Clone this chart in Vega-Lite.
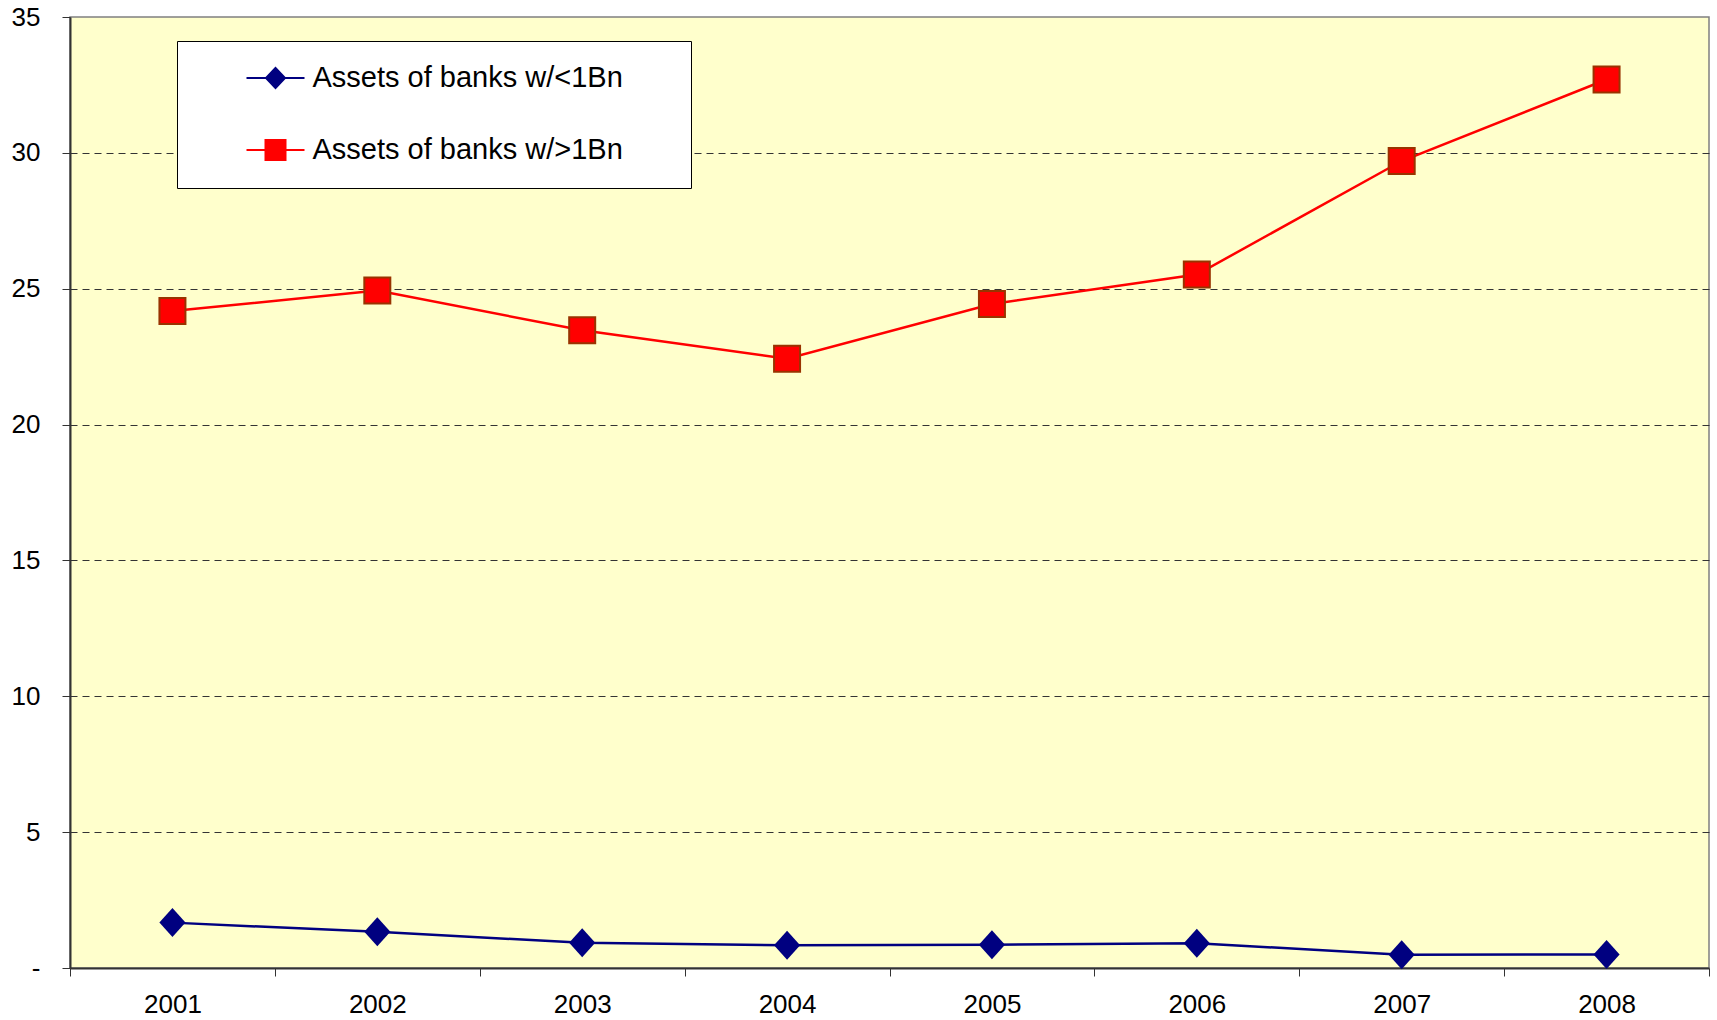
{
  "$schema": "https://vega.github.io/schema/vega-lite/v6.json",
  "width": 1639,
  "height": 951,
  "autosize": {"type": "none"},
  "padding": {"left": 70, "top": 17, "right": 8, "bottom": 52},
  "background": "white",
  "data": {
    "values": [
      {"year": "2001", "series": "Assets of banks w/<1Bn", "value": 1.67},
      {"year": "2002", "series": "Assets of banks w/<1Bn", "value": 1.33},
      {"year": "2003", "series": "Assets of banks w/<1Bn", "value": 0.93},
      {"year": "2004", "series": "Assets of banks w/<1Bn", "value": 0.84},
      {"year": "2005", "series": "Assets of banks w/<1Bn", "value": 0.86},
      {"year": "2006", "series": "Assets of banks w/<1Bn", "value": 0.91},
      {"year": "2007", "series": "Assets of banks w/<1Bn", "value": 0.49},
      {"year": "2008", "series": "Assets of banks w/<1Bn", "value": 0.5},
      {"year": "2001", "series": "Assets of banks w/>1Bn", "value": 24.18},
      {"year": "2002", "series": "Assets of banks w/>1Bn", "value": 24.93},
      {"year": "2003", "series": "Assets of banks w/>1Bn", "value": 23.47},
      {"year": "2004", "series": "Assets of banks w/>1Bn", "value": 22.42},
      {"year": "2005", "series": "Assets of banks w/>1Bn", "value": 24.44},
      {"year": "2006", "series": "Assets of banks w/>1Bn", "value": 25.52},
      {"year": "2007", "series": "Assets of banks w/>1Bn", "value": 29.7},
      {"year": "2008", "series": "Assets of banks w/>1Bn", "value": 32.7}
    ]
  },
  "encoding": {
    "x": {
      "field": "year", "type": "ordinal",
      "scale": {"type": "band", "paddingInner": 0, "paddingOuter": 0},
      "axis": {
        "title": null, "labelAngle": 0, "labelFont": "Liberation Sans", "labelFontSize": 26,
        "labelColor": "black", "tickBand": "extent", "tickSize": 8, "tickColor": "#333333",
        "domainColor": "#333333", "domainWidth": 2, "grid": false, "labelPadding": 15.5
      }
    },
    "y": {
      "field": "value", "type": "quantitative",
      "scale": {"domain": [0, 35], "nice": false},
      "axis": {
        "title": null, "values": [0, 5, 10, 15, 20, 25, 30, 35],
        "labelExpr": "datum.value == 0 ? '-' : datum.label",
        "labelFont": "Liberation Sans", "labelFontSize": 26, "labelColor": "black",
        "labelPadding": 22, "tickSize": 8, "tickColor": "#333333",
        "domainColor": "#333333", "domainWidth": 2,
        "grid": true, "gridDash": [7, 5], "gridColor": "#333333", "gridWidth": 1,
        "gridOpacity": {"condition": {"test": "datum.value == 0 || datum.value == 35", "value": 0}, "value": 1}
      }
    }
  },
  "layer": [
    {
      "mark": {"type": "line", "strokeWidth": 2.5},
      "encoding": {
        "color": {
          "field": "series", "type": "nominal",
          "scale": {"domain": ["Assets of banks w/<1Bn", "Assets of banks w/>1Bn"], "range": ["#000080", "#FF0000"]},
          "legend": {
            "orient": "none", "legendX": 107, "legendY": 24, "title": null,
            "fillColor": "white", "strokeColor": "black", "padding": 22.5,
            "labelFont": "Liberation Sans", "labelFontSize": 29, "labelColor": "black",
            "labelLimit": 2000, "rowPadding": 42, "symbolSize": 400, "symbolStrokeWidth": 2,
            "symbolOffset": 61.5, "labelOffset": 22.5,
            "encode": {
              "symbols": {
                "update": {
                  "shape": {"signal": "datum.value === 'Assets of banks w/<1Bn' ? 'M-2.9,0H2.9M0,-1L0.95,0L0,1L-0.95,0ZM38.9,0' : 'M-2.9,0H2.9M-1,-1H1V1H-1ZM38.9,0'"},
                  "fill": {"signal": "datum.value === 'Assets of banks w/<1Bn' ? '#000080' : '#FF0000'"},
                  "stroke": {"signal": "datum.value === 'Assets of banks w/<1Bn' ? '#000080' : '#FF0000'"},
                  "strokeWidth": {"value": 2},
                  "opacity": {"value": 1},
                  "fillOpacity": {"value": 1},
                  "strokeOpacity": {"value": 1}
                }
              }
            }
          }
        }
      }
    },
    {
      "transform": [{"filter": "datum.series === 'Assets of banks w/<1Bn'"}],
      "mark": {"type": "point", "shape": "M-0.9,0L0,-1L0.9,0L0,1Z", "size": 841, "filled": true, "fill": "#000080", "opacity": 1, "strokeWidth": 0}
    },
    {
      "transform": [{"filter": "datum.series === 'Assets of banks w/>1Bn'"}],
      "mark": {"type": "point", "shape": "square", "size": 676, "filled": true, "fill": "#FF0000", "stroke": "#993300", "strokeWidth": 2, "opacity": 1}
    }
  ],
  "config": {
    "view": {"fill": "#FFFFCC", "stroke": "#808080", "strokeWidth": 1.5},
    "font": "Liberation Sans"
  }
}
